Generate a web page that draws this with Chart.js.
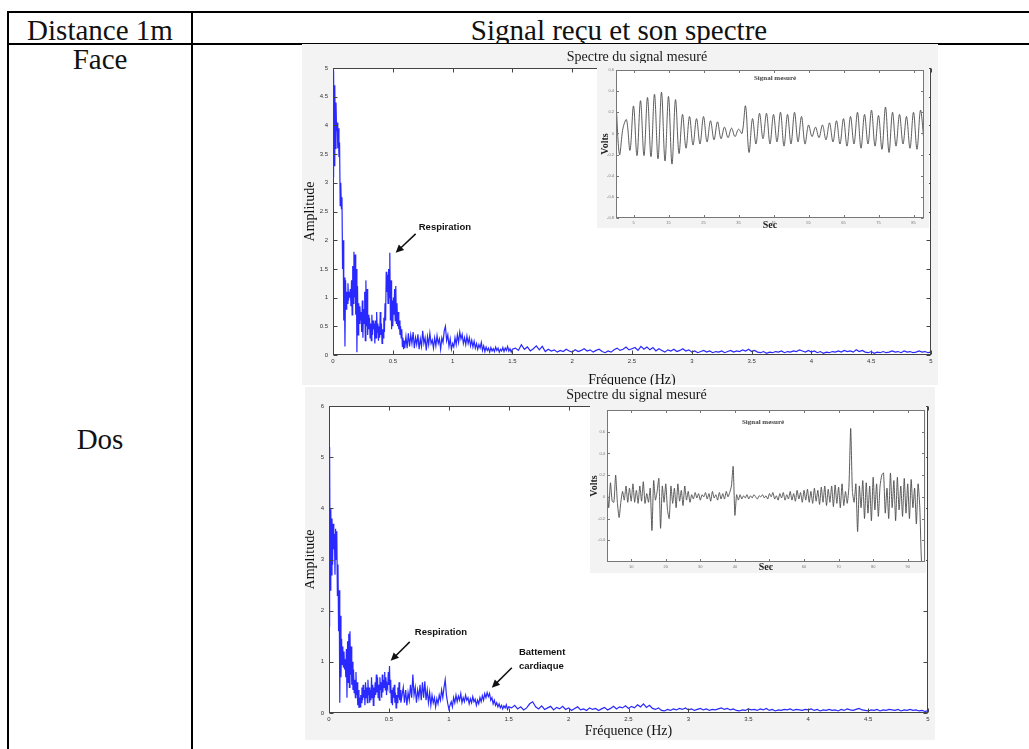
<!DOCTYPE html>
<html>
<head>
<meta charset="utf-8">
<script src="https://cdn.jsdelivr.net/npm/chart.js@4/dist/chart.umd.min.js"></script>
<style>
  html, body { margin: 0; padding: 0; background: #fff; }
  body { position: relative; width: 1029px; height: 749px; overflow: hidden; }
  .rule { position: absolute; background: #000; }
  .txt { position: absolute; font-family: "Liberation Serif", "Times New Roman", serif; font-size: 29px; line-height: 29px; color: #111; text-align: center; white-space: nowrap; }
  .panel { position: absolute; background: #f3f3f3; }
  .panel canvas { display: block; }
</style>
</head>
<body>

<!-- table frame -->
<div class="rule" style="left:7px;top:11px;width:1022px;height:2px"></div>
<div class="rule" style="left:7px;top:43px;width:1022px;height:2px"></div>
<div class="rule" style="left:7px;top:11px;width:2px;height:738px"></div>
<div class="rule" style="left:191px;top:11px;width:2px;height:738px"></div>

<div class="txt" style="left:9px;width:182px;top:16px">Distance 1m</div>
<div class="txt" style="left:419px;width:400px;top:16px">Signal reçu et son spectre</div>
<div class="txt" style="left:9px;width:182px;top:45px">Face</div>
<div class="txt" style="left:9px;width:182px;top:425px">Dos</div>

<div class="panel" style="left:302px;top:44px;width:636px;height:341px"><canvas id="specFace" width="636" height="341"></canvas></div>
<div class="panel" style="left:305px;top:387px;width:630px;height:353px"><canvas id="specDos" width="630" height="353"></canvas></div>
<div class="panel" style="left:597px;top:63px;width:332px;height:165px"><canvas id="sigFace" width="332" height="165"></canvas></div>
<div class="panel" style="left:590px;top:403px;width:336px;height:170px"><canvas id="sigDos" width="336" height="170"></canvas></div>

<script>
// ---- Spectrum amplitudes, face position ----
// 0 – 0.6 Hz, one value every 0.005 Hz
const faceLowAmp = [
  3.1, 4.95, 3.3, 4.7, 3.6, 4.4, 3.9, 4.05, 3.6, 3.95,
  3.45, 3.7, 2.6, 3.0, 2.55, 2.75, 1.5, 2.0, 0.6, 1.35,
  0.15, 1.3, 0.8, 1.1, 0.9, 1.25, 0.95, 1.1, 1.0, 1.15,
  0.85, 1.3, 0.7, 1.55, 0.9, 1.8, 1.0, 1.75, 0.7, 1.5,
  0.05, 1.2, 0.35, 0.9, 0.55, 0.85, 0.6, 0.75, 0.4, 0.95,
  0.3, 0.8, 0.55, 1.1, 0.25, 1.3, 0.5, 1.15, 0.35, 0.7,
  0.45, 0.65, 0.3, 0.55, 0.25, 0.7, 0.35, 0.6, 0.45, 0.55,
  0.2, 0.6, 0.3, 0.75, 0.4, 0.55, 0.25, 0.5, 0.3, 0.75,
  0.35, 0.55, 0.2, 0.45, 0.3, 0.65, 0.4, 0.9, 0.6, 1.45,
  1.1, 1.4, 0.9, 1.5, 1.0, 1.78, 0.6, 1.3, 0.45, 0.95,
  0.5, 1.0, 0.7, 1.15, 0.6, 1.2, 0.55, 0.9, 0.5, 0.75,
  0.45, 0.6, 0.35, 0.5, 0.3, 0.45, 0.15, 0.3, 0.1, 0.25,
  0.12
];
// 0.61 – 1.50 Hz, every 0.01 Hz
const faceMidAmp = [
  0.32, 0.12, 0.38, 0.15, 0.35, 0.2, 0.4, 0.12, 0.3, 0.18,
  0.36, 0.1, 0.28, 0.15, 0.42, 0.2, 0.3, 0.08, 0.32, 0.18,
  0.38, 0.2, 0.26, 0.12, 0.3, 0.16, 0.34, 0.2, 0.28, 0.1,
  0.3, 0.22, 0.42, 0.5, 0.25, 0.35, 0.15, 0.28, 0.1, 0.2,
  0.14, 0.3, 0.18, 0.35, 0.22, 0.4, 0.28, 0.36, 0.2, 0.3,
  0.18, 0.33, 0.2, 0.3, 0.16, 0.26, 0.14, 0.24, 0.12, 0.2,
  0.1, 0.18, 0.12, 0.22, 0.08, 0.16, 0.06, 0.14, 0.08, 0.12,
  0.05, 0.13, 0.07, 0.11, 0.06, 0.14, 0.08, 0.12, 0.05, 0.1,
  0.07, 0.13, 0.06, 0.12, 0.08, 0.15, 0.07, 0.11, 0.05, 0.1
];
// 1.525 – 5 Hz, every 0.025 Hz
const faceTailAmp = [
  0.12, 0.08, 0.18, 0.1, 0.14, 0.07, 0.11, 0.16, 0.09, 0.15,
  0.06, 0.1, 0.07, 0.09, 0.05, 0.08, 0.06, 0.1, 0.07, 0.05,
  0.09, 0.06, 0.08, 0.11, 0.07, 0.09, 0.05, 0.08, 0.1, 0.06,
  0.04, 0.07, 0.05, 0.09, 0.12, 0.08, 0.1, 0.14, 0.09, 0.11,
  0.13, 0.08, 0.15, 0.1, 0.14, 0.09, 0.13, 0.07, 0.11, 0.08,
  0.05, 0.09, 0.07, 0.1, 0.06, 0.08, 0.11, 0.07, 0.09, 0.05,
  0.07, 0.04, 0.06, 0.08, 0.05, 0.07, 0.04, 0.06, 0.05, 0.07,
  0.04, 0.06, 0.08, 0.05, 0.07, 0.06, 0.09, 0.07, 0.1, 0.06,
  0.08, 0.05, 0.04, 0.06, 0.03, 0.05, 0.04, 0.06, 0.05, 0.07,
  0.04, 0.06, 0.05, 0.07, 0.06, 0.09, 0.07, 0.05, 0.08, 0.05,
  0.07, 0.04, 0.06, 0.03, 0.05, 0.04, 0.06, 0.05, 0.07, 0.05,
  0.08, 0.06, 0.07, 0.05, 0.09, 0.06, 0.08, 0.05, 0.04, 0.06,
  0.03, 0.05, 0.04, 0.06, 0.04, 0.05, 0.07, 0.05, 0.06, 0.04,
  0.07, 0.05, 0.06, 0.04, 0.05, 0.07, 0.05, 0.06, 0.04, 0.05
];

// ---- Spectrum amplitudes, back position ----
const dosLowAmp = [
  1.7, 5.2, 2.4, 4.0, 2.7, 3.8, 2.9, 3.7, 3.2, 3.5,
  2.7, 3.6, 3.0, 3.55, 2.3, 2.9, 1.6, 2.4, 0.2, 1.9,
  0.7, 1.45, 0.95, 1.3, 0.9, 1.2, 0.85, 1.05, 0.7, 1.25,
  0.3, 1.4, 0.6, 1.55, 0.5, 1.6, 0.75, 1.3, 0.55, 1.0,
  0.45, 0.85, 0.4, 0.65, 0.3, 0.8, 0.35, 0.6, 0.15, 0.45,
  0.1, 0.3, 0.12, 0.35, 0.2, 0.5, 0.25, 0.55, 0.3, 0.45,
  0.15, 0.6, 0.3, 0.5, 0.2, 0.65, 0.35, 0.5, 0.2, 0.45,
  0.25, 0.7, 0.3, 0.55, 0.15, 0.5, 0.3, 0.6, 0.35, 0.75,
  0.4, 0.7, 0.3, 0.55, 0.25, 0.7, 0.45, 0.6, 0.3, 0.75,
  0.4, 0.65, 0.5, 0.8, 0.45, 0.7, 0.35, 0.55, 0.5, 0.8,
  0.55, 0.92, 0.4, 0.65, 0.2, 0.45, 0.15, 0.5, 0.3, 0.55,
  0.2, 0.4, 0.1, 0.35, 0.2, 0.5, 0.3, 0.6, 0.25, 0.45,
  0.2
];
const dosMidAmp = [
  0.35, 0.5, 0.2, 0.45, 0.15, 0.4, 0.25, 0.55, 0.3, 0.75,
  0.35, 0.5, 0.2, 0.45, 0.3, 0.55, 0.25, 0.6, 0.3, 0.62,
  0.25, 0.45, 0.2, 0.4, 0.15, 0.35, 0.2, 0.3, 0.12, 0.28,
  0.18, 0.35, 0.25, 0.45, 0.3, 0.5, 0.65, 0.35, 0.2, 0.08,
  0.15, 0.22, 0.12, 0.3, 0.2, 0.35, 0.22, 0.33, 0.25, 0.38,
  0.2, 0.3, 0.22, 0.35, 0.25, 0.3, 0.18, 0.28, 0.2, 0.32,
  0.22, 0.27, 0.15, 0.25, 0.18, 0.3, 0.22, 0.34, 0.25, 0.38,
  0.3, 0.4, 0.32, 0.38, 0.25, 0.3, 0.18, 0.25, 0.15, 0.2,
  0.12, 0.18, 0.1, 0.15, 0.08, 0.14, 0.1, 0.16, 0.07, 0.12
];
const dosTailAmp = [
  0.1, 0.15, 0.08, 0.12, 0.06, 0.1, 0.18, 0.22, 0.12, 0.08,
  0.14, 0.07, 0.1, 0.13, 0.06, 0.11, 0.08, 0.13, 0.07, 0.1,
  0.05, 0.09, 0.12, 0.06, 0.08, 0.05, 0.1, 0.07, 0.09, 0.05,
  0.08, 0.11, 0.06, 0.09, 0.13, 0.08, 0.12, 0.1, 0.14, 0.09,
  0.13, 0.1, 0.16, 0.12, 0.18, 0.11, 0.15, 0.09, 0.07, 0.1,
  0.05, 0.04, 0.07, 0.05, 0.08, 0.06, 0.09, 0.07, 0.1, 0.06,
  0.08, 0.05, 0.07, 0.09, 0.06, 0.08, 0.05, 0.07, 0.06, 0.08,
  0.1, 0.07, 0.09, 0.06, 0.08, 0.05, 0.04, 0.06, 0.05, 0.08,
  0.06, 0.07, 0.05, 0.08, 0.06, 0.09, 0.05, 0.07, 0.04, 0.06,
  0.05, 0.07, 0.06, 0.08, 0.05, 0.07, 0.06, 0.05, 0.07, 0.06,
  0.08, 0.05, 0.07, 0.04, 0.06, 0.05, 0.07, 0.05, 0.06, 0.04,
  0.07, 0.05, 0.08, 0.06, 0.05, 0.07, 0.09, 0.06, 0.05, 0.04,
  0.06, 0.05, 0.07, 0.04, 0.06, 0.05, 0.07, 0.06, 0.05, 0.07,
  0.04, 0.06, 0.05, 0.07, 0.05, 0.06, 0.04, 0.05, 0.03, 0.04
];

// ---- Measured signals (volts) ----
// face: one sample per second from 0 s
const faceVolts = [
  0.3, -0.2, 0.05, 0.13, -0.16, 0.26, -0.21, 0.31, -0.21, 0.34,
  -0.22, 0.37, -0.24, 0.39, -0.26, 0.35, -0.29, 0.32, -0.19, 0.18,
  -0.14, 0.16, -0.11, 0.14, -0.1, 0.16, -0.08, 0.12, -0.06, 0.11,
  -0.05, 0.06, -0.04, 0.05, -0.03, 0.04, 0.0, 0.26, -0.18, 0.14,
  -0.1, 0.19, -0.05, 0.19, -0.1, 0.18, -0.08, 0.2, -0.12, 0.18,
  -0.1, 0.2, -0.08, 0.16, -0.1, 0.08, -0.03, 0.06, -0.04, 0.08,
  -0.06, 0.1, -0.08, 0.12, -0.1, 0.14, -0.12, 0.16, -0.1, 0.2,
  -0.14, 0.18, -0.1, 0.22, -0.12, 0.17, -0.15, 0.25, -0.18, 0.2,
  -0.12, 0.18, -0.1, 0.16, -0.14, 0.2, -0.15, 0.22, -0.08
];
// back: one sample every 0.5 s from 3 s
const dosVolts = [
  0.1, -0.1, 0.13, -0.04, -0.05, 0.2, -0.05, -0.19, -0.05, 0.05,
  -0.03, 0.1, -0.05, 0.08, -0.04, 0.12, -0.05, 0.06, -0.06, 0.1,
  -0.04, 0.14, -0.06, 0.03, -0.05, 0.08, -0.31, 0.15, -0.03, 0.05,
  0.17, -0.29, 0.1, -0.05, 0.12, -0.12, -0.2, 0.1, -0.06, 0.08,
  -0.1, 0.12, -0.04, 0.06, -0.08, 0.1, -0.03, 0.05, -0.05, 0.02,
  -0.02, 0.04, -0.01, 0.03, -0.03, 0.02, 0.0, 0.04, -0.02, 0.03,
  -0.04, 0.05, -0.01, 0.02, -0.03, 0.04, -0.02, 0.03, -0.02, 0.05,
  0.0, 0.04, 0.1, 0.28, -0.17, 0.02, -0.03, 0.02, -0.02, 0.01,
  -0.01, 0.02, -0.02, 0.01, -0.01, 0.02, 0.0, -0.02, 0.01, 0.0,
  0.02, -0.01, 0.01, -0.02, 0.03, 0.0, 0.04, -0.02, 0.01, -0.03,
  0.03, -0.01, 0.04, -0.03, 0.02, -0.02, 0.05, -0.03, 0.03, -0.04,
  0.06, -0.02, 0.04, -0.05, 0.06, -0.03, 0.07, -0.05, 0.05, -0.06,
  0.08, -0.04, 0.06, -0.07, 0.09, -0.05, 0.1, -0.08, 0.07, -0.05,
  0.1, -0.09, 0.11, -0.06, 0.09, -0.1, 0.12, -0.08, 0.05, -0.06,
  0.1, 0.63, 0.05, -0.05, 0.12, -0.32, 0.1, -0.1, 0.15, -0.2,
  0.13, -0.15, 0.1, -0.22, 0.18, -0.12, 0.12, -0.18, 0.1, 0.2,
  0.22, -0.15, 0.08, -0.2, 0.22, -0.1, 0.15, -0.22, 0.18, -0.12,
  0.1, -0.18, 0.17, -0.15, 0.12, -0.2, 0.16, -0.1, 0.08, -0.25,
  0.12, -0.1, -0.6, -0.6, -0.58
];

// ---- Tick values for the small signal plots ----
const faceSecTicks = [5, 15, 25, 35, 45, 55, 65, 75, 85];
const dosSecTicks = [10, 20, 30, 40, 50, 60, 70, 80, 90];
const faceVoltTicks = [-0.8, -0.6, -0.4, -0.2, 0, 0.2, 0.4, 0.6];
const dosVoltTicks = [-0.4, -0.2, 0, 0.2, 0.4, 0.6];

// frequency grid of the three amplitude blocks: [first Hz, step Hz]
const lowGrid = [0, 0.005], midGrid = [0.61, 0.01], tailGrid = [1.525, 0.025];

function spectrum(low, mid, tail) {
  const pts = [];
  [[low, lowGrid], [mid, midGrid], [tail, tailGrid]].forEach(([arr, [f0, df]]) => {
    arr.forEach((v, i) => pts.push({ x: +(f0 + i * df).toFixed(4), y: v }));
  });
  return pts;
}
function series(values, t0, dt) {
  return values.map((v, i) => ({ x: +(t0 + i * dt).toFixed(3), y: v }));
}

Chart.defaults.animation = false;
Chart.defaults.font.family = '"Liberation Sans", Arial, sans-serif';

// white plotting area, inward ticks on all four sides, heading and arrow notes
const framePlugin = {
  id: 'frame',
  beforeDraw(chart) {
    const { ctx, chartArea: a } = chart;
    ctx.save();
    ctx.fillStyle = '#ffffff';
    ctx.fillRect(a.left, a.top, a.right - a.left, a.bottom - a.top);
    ctx.restore();
  },
  afterDatasetsDraw(chart, _args, o) {
    const { ctx, chartArea: a, scales } = chart;
    const L = Math.round(a.left) + 0.5, R = Math.round(a.right) - 0.5;
    const T = Math.round(a.top) + 0.5, B = Math.round(a.bottom) - 0.5;
    ctx.save();
    ctx.strokeStyle = o.color;
    ctx.lineWidth = 1;
    ctx.beginPath();
    scales.x.ticks.forEach(t => {
      const p = Math.round(scales.x.getPixelForValue(t.value)) + 0.5;
      ctx.moveTo(p, B); ctx.lineTo(p, B - o.tick);
      ctx.moveTo(p, T); ctx.lineTo(p, T + o.tick);
    });
    scales.y.ticks.forEach(t => {
      const p = Math.round(scales.y.getPixelForValue(t.value)) + 0.5;
      ctx.moveTo(L, p); ctx.lineTo(L + o.tick, p);
      ctx.moveTo(R, p); ctx.lineTo(R - o.tick, p);
    });
    ctx.stroke();
    ctx.strokeRect(L, T, R - L, B - T);

    if (o.heading) {
      ctx.fillStyle = o.headingColor;
      ctx.font = o.headingFont;
      ctx.textAlign = 'center';
      ctx.textBaseline = 'middle';
      ctx.fillText(o.heading, (a.left + a.right) / 2 + o.headingDx, a.top + o.headingDy);
    }

    (o.notes || []).forEach(n => {
      const px = v => scales.x.getPixelForValue(v), py = v => scales.y.getPixelForValue(v);
      const tx = px(n.tail[0]), ty = py(n.tail[1]);
      const hx = px(n.head[0]), hy = py(n.head[1]);
      const ang = Math.atan2(hy - ty, hx - tx);
      ctx.strokeStyle = '#111';
      ctx.fillStyle = '#111';
      ctx.lineWidth = 1.5;
      ctx.beginPath();
      ctx.moveTo(tx, ty);
      ctx.lineTo(hx - 4 * Math.cos(ang), hy - 4 * Math.sin(ang));
      ctx.stroke();
      ctx.beginPath();
      ctx.moveTo(hx, hy);
      ctx.lineTo(hx - 8 * Math.cos(ang) + 3.8 * Math.sin(ang), hy - 8 * Math.sin(ang) - 3.8 * Math.cos(ang));
      ctx.lineTo(hx - 8 * Math.cos(ang) - 3.8 * Math.sin(ang), hy - 8 * Math.sin(ang) + 3.8 * Math.cos(ang));
      ctx.closePath();
      ctx.fill();
      ctx.font = 'bold 9.5px "Liberation Sans", Arial, sans-serif';
      ctx.textAlign = 'left';
      ctx.textBaseline = 'middle';
      n.lines.forEach((s, i) => ctx.fillText(s, px(n.at[0]), py(n.at[1]) + i * 14));
    });
    ctx.restore();
  }
};

function spectrumChart(id, points, yMax, yStep, dims, notes) {
  return new Chart(document.getElementById(id), {
    type: 'line',
    data: { datasets: [{ data: points, borderColor: 'rgb(40,40,255)', borderWidth: 1.2, pointRadius: 0, tension: 0, fill: false }] },
    options: {
      responsive: false,
      devicePixelRatio: 1,
      layout: { padding: { left: 0, top: dims.top, right: dims.right, bottom: 0 } },
      plugins: {
        legend: { display: false }, tooltip: { enabled: false }, title: { display: false },
        frame: {
          color: '#444', tick: 4, notes,
          heading: 'Spectre du signal mesuré', headingFont: '14px "Liberation Serif", serif', headingColor: '#1a1a1a',
          headingDx: dims.headDx, headingDy: -11
        }
      },
      scales: {
        x: {
          type: 'linear', min: 0, max: 5,
          grid: { display: false, drawTicks: false }, border: { display: false },
          ticks: { stepSize: 0.5, padding: 3, maxRotation: 0, autoSkip: false, color: '#333', font: { size: 6 }, format: { minimumFractionDigits: 0, maximumFractionDigits: 1 } },
          title: { display: true, text: 'Fréquence (Hz)', color: '#111', font: { family: '"Liberation Serif", serif', size: 14 }, padding: { top: 0, bottom: dims.xTitlePad } },
          afterFit: s => { s.height = dims.xh; }
        },
        y: {
          min: 0, max: yMax,
          grid: { display: false, drawTicks: false }, border: { display: false },
          ticks: { stepSize: yStep, padding: 5, color: '#333', font: { size: 6 }, format: { minimumFractionDigits: 0, maximumFractionDigits: 1 } },
          title: { display: true, text: 'Amplitude', color: '#111', font: { family: '"Liberation Serif", serif', size: 14 }, padding: { top: dims.yTitlePad, bottom: 0 } },
          afterFit: s => { s.width = dims.yw; }
        }
      }
    },
    plugins: [framePlugin]
  });
}

function signalChart(id, points, xMin, xMax, xTicks, yMin, yMax, yTicks, dims) {
  return new Chart(document.getElementById(id), {
    type: 'line',
    data: { datasets: [{ data: points, borderColor: '#4a4a4a', borderWidth: 0.9, pointRadius: 0, tension: dims.tension, fill: false }] },
    options: {
      responsive: false,
      devicePixelRatio: 1,
      layout: { padding: { left: 0, top: 7, right: dims.right, bottom: 0 } },
      plugins: {
        legend: { display: false }, tooltip: { enabled: false }, title: { display: false },
        frame: {
          color: '#777', tick: 2.5,
          heading: 'Signal mesuré', headingFont: 'bold 7px "Liberation Serif", serif', headingColor: '#444',
          headingDx: dims.headDx, headingDy: dims.headDy
        }
      },
      scales: {
        x: {
          type: 'linear', min: xMin, max: xMax,
          afterBuildTicks: s => { s.ticks = xTicks.map(v => ({ value: v })); },
          grid: { display: false, drawTicks: false }, border: { display: false },
          ticks: { padding: 2, maxRotation: 0, autoSkip: false, color: '#777', font: { size: 4 } },
          title: { display: true, text: 'Sec', color: '#222', font: { family: '"Liberation Serif", serif', size: 10, weight: 'bold' }, padding: { top: 0, bottom: dims.xTitlePad } },
          afterFit: s => { s.height = dims.xh; }
        },
        y: {
          min: yMin, max: yMax,
          afterBuildTicks: s => { s.ticks = yTicks.map(v => ({ value: v })); },
          grid: { display: false, drawTicks: false }, border: { display: false },
          ticks: { padding: 2, color: '#777', font: { size: 4 }, format: { minimumFractionDigits: 0, maximumFractionDigits: 1 } },
          title: { display: true, text: 'Volts', color: '#222', font: { family: '"Liberation Serif", serif', size: 10, weight: 'bold' }, padding: { top: dims.yTitlePad, bottom: 0 } },
          afterFit: s => { s.width = dims.yw; }
        }
      }
    },
    plugins: [framePlugin]
  });
}

spectrumChart('specFace', spectrum(faceLowAmp, faceMidAmp, faceTailAmp), 5, 0.5,
  { top: 24, right: 7, yw: 31, xh: 30, xTitlePad: -3.4, yTitlePad: 0, headDx: 5 },
  [{ lines: ['Respiration'], at: [0.717, 2.215], tail: [0.691, 2.11], head: [0.524, 1.78] }]);

spectrumChart('specDos', spectrum(dosLowAmp, dosMidAmp, dosTailAmp), 6, 1,
  { top: 19, right: 7, yw: 24, xh: 27, xTitlePad: 0.6, yTitlePad: -3.4, headDx: 8 },
  [{ lines: ['Respiration'], at: [0.716, 1.566], tail: [0.674, 1.39], head: [0.515, 1.02] },
   { lines: ['Battement', 'cardiaque'], at: [1.585, 1.176], tail: [1.526, 0.884], head: [1.359, 0.494] }]);

signalChart('sigFace', series(faceVolts, 0, 1), 0, 88, faceSecTicks, -0.8, 0.6, faceVoltTicks,
  { right: 5, yw: 19, xh: 10, xTitlePad: -3, yTitlePad: 2, headDx: 5, headDy: 8.3, tension: 0.35 });

signalChart('sigDos', series(dosVolts, 3, 0.5), 3, 95, dosSecTicks, -0.6, 0.8, dosVoltTicks,
  { right: 1, yw: 17, xh: 11, xTitlePad: 0, yTitlePad: -2, headDx: -3, headDy: 11.7, tension: 0.2 });
</script>
</body>
</html>
